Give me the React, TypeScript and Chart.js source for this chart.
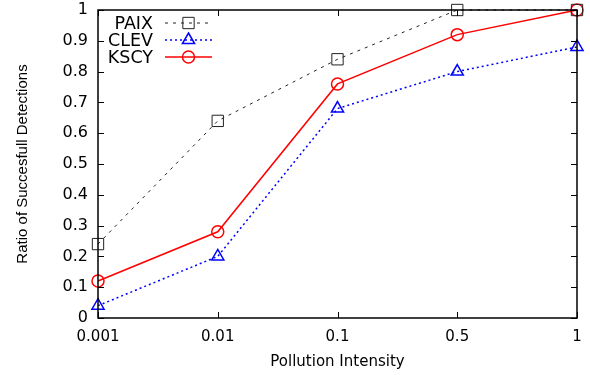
import React, { useEffect, useRef } from "react";
import { Chart, registerables } from "chart.js";

Chart.register(...registerables);

const categories = ["0.001", "0.01", "0.1", "0.5", "1"];
const paix = [0.24, 0.64, 0.84, 1.0, 1.0];
const clev = [0.04, 0.2, 0.68, 0.8, 0.88];
const kscy = [0.12, 0.28, 0.76, 0.92, 1.0];
const yTicks = [0, 0.1, 0.2, 0.3, 0.4, 0.5, 0.6, 0.7, 0.8, 0.9, 1];

const FONT = "'DejaVu Sans', sans-serif";
const FONT_V = "'Liberation Sans', Arial, Helvetica, sans-serif";

const framePlugin = {
  id: "gnuFrame",
  afterDatasetsDraw(chart: any) {
    const { ctx, chartArea: a, scales } = chart;
    ctx.save();
    ctx.strokeStyle = "#000";
    ctx.lineWidth = 1;
    const yS = scales.y;
    yTicks.forEach((v) => {
      const py = Math.round(yS.getPixelForValue(v)) + 0.5;
      ctx.beginPath();
      ctx.moveTo(a.left, py);
      ctx.lineTo(a.left + 6, py);
      ctx.moveTo(a.right, py);
      ctx.lineTo(a.right - 6, py);
      ctx.stroke();
    });
    const xS = scales.x;
    categories.forEach((_, i) => {
      const px = Math.round(xS.getPixelForValue(i)) + 0.5;
      ctx.beginPath();
      ctx.moveTo(px, a.bottom);
      ctx.lineTo(px, a.bottom - 6);
      ctx.moveTo(px, a.top);
      ctx.lineTo(px, a.top + 6);
      ctx.stroke();
    });
    ctx.lineWidth = 1.5;
    ctx.strokeRect(a.left, a.top, a.right - a.left, a.bottom - a.top);
    ctx.restore();
  },
  afterDraw(chart: any) {
    const { ctx, chartArea: a } = chart;
    ctx.save();
    ctx.font = `17.5px ${FONT}`;
    ctx.textAlign = "right";
    ctx.textBaseline = "middle";
    chart.data.datasets.forEach((ds: any, i: number) => {
      const y = a.top + 13 + i * 17;
      const textRight = a.left + 55;
      ctx.fillStyle = "#000";
      ctx.fillText(ds.label, textRight, y + 1);
      const x0 = textRight + 12;
      const x1 = x0 + 47;
      ctx.strokeStyle = ds.borderColor;
      ctx.lineWidth = ds.borderWidth;
      ctx.setLineDash(ds.borderDash || []);
      ctx.beginPath();
      ctx.moveTo(x0, y);
      ctx.lineTo(x1, y);
      ctx.stroke();
      ctx.setLineDash([]);
      const cx = (x0 + x1) / 2;
      const r = ds.pointRadius;
      ctx.lineWidth = ds.pointBorderWidth;
      ctx.strokeStyle = ds.pointBorderColor || ds.borderColor;
      ctx.beginPath();
      if (ds.pointStyle === "rect") {
        const s = r * Math.SQRT1_2;
        ctx.rect(cx - s, y - s, 2 * s, 2 * s);
      } else if (ds.pointStyle === "triangle") {
        ctx.moveTo(cx, y - r);
        ctx.lineTo(cx + r * 0.87, y + r * 0.5);
        ctx.lineTo(cx - r * 0.87, y + r * 0.5);
        ctx.closePath();
      } else {
        ctx.arc(cx, y, r, 0, Math.PI * 2);
      }
      ctx.stroke();
    });
    ctx.restore();
  },
};

export default function App() {
  const ref = useRef<HTMLCanvasElement>(null);
  useEffect(() => {
    if (!ref.current) return;
    const chart = new Chart(ref.current, {
      type: "line",
      data: {
        labels: categories,
        datasets: [
          {
            label: "PAIX",
            data: paix,
            borderColor: "#222",
            borderWidth: 1,
            borderDash: [3, 5],
            pointStyle: "rect",
            pointRadius: 8,
            pointBorderWidth: 1,
            pointBorderColor: "#222",
            pointBackgroundColor: "rgba(0,0,0,0)",
            clip: false as any,
          },
          {
            label: "CLEV",
            data: clev,
            borderColor: "#0000ff",
            borderWidth: 1.5,
            borderDash: [2, 3],
            pointStyle: "triangle",
            pointRadius: 7,
            pointBorderWidth: 1.5,
            pointBorderColor: "#0000ff",
            pointBackgroundColor: "rgba(0,0,0,0)",
            clip: false as any,
          },
          {
            label: "KSCY",
            data: kscy,
            borderColor: "#ff0000",
            borderWidth: 1.5,
            pointStyle: "circle",
            pointRadius: 6,
            pointBorderWidth: 1.5,
            pointBorderColor: "#ff0000",
            pointBackgroundColor: "rgba(0,0,0,0)",
            clip: false as any,
          },
        ] as any,
      },
      options: {
        animation: false,
        responsive: false,
        maintainAspectRatio: false,
        layout: { padding: { top: 10, right: 13, left: 0, bottom: 0 } },
        plugins: {
          legend: { display: false },
          tooltip: { enabled: false },
        },
        elements: { line: { tension: 0 } },
        scales: {
          x: {
            type: "category",
            offset: false,
            grid: { display: false, drawTicks: false },
            border: { display: false },
            ticks: {
              color: "#000",
              font: { family: FONT, size: 15 },
              padding: 10,
              maxRotation: 0,
            },
            title: {
              display: true,
              text: "Pollution Intensity",
              color: "#000",
              font: { family: FONT, size: 15 },
              padding: { top: 4, bottom: 4 },
            },
            afterFit(scale: any) {
              scale.height = 57;
              scale.paddingLeft = 0;
              scale.paddingRight = 0;
            },
          },
          y: {
            min: 0,
            max: 1,
            grid: { display: false, drawTicks: false },
            border: { display: false },
            afterBuildTicks(scale: any) {
              scale.ticks = yTicks.map((v) => ({ value: v }));
            },
            ticks: {
              color: "#000",
              font: { family: FONT, size: 16 },
              padding: 10,
              callback: (v: any) => Number(Number(v).toFixed(1)).toString(),
            },
            title: {
              display: true,
              text: "Ratio of Succesfull Detections",
              color: "#000",
              font: { family: FONT_V, size: 15 },
              padding: { top: 14, bottom: 0 },
            },
            afterFit(scale: any) {
              scale.width = 98;
              scale.paddingTop = 0;
              scale.paddingBottom = 0;
            },
          },
        },
      },
      plugins: [framePlugin],
    });
    return () => chart.destroy();
  }, []);
  return (
    <div style={{ position: "fixed", left: 0, top: 0, width: 590, height: 375, background: "#fff" }}>
      <canvas ref={ref} width={590} height={375} style={{ width: 590, height: 375 }} />
    </div>
  );
}
